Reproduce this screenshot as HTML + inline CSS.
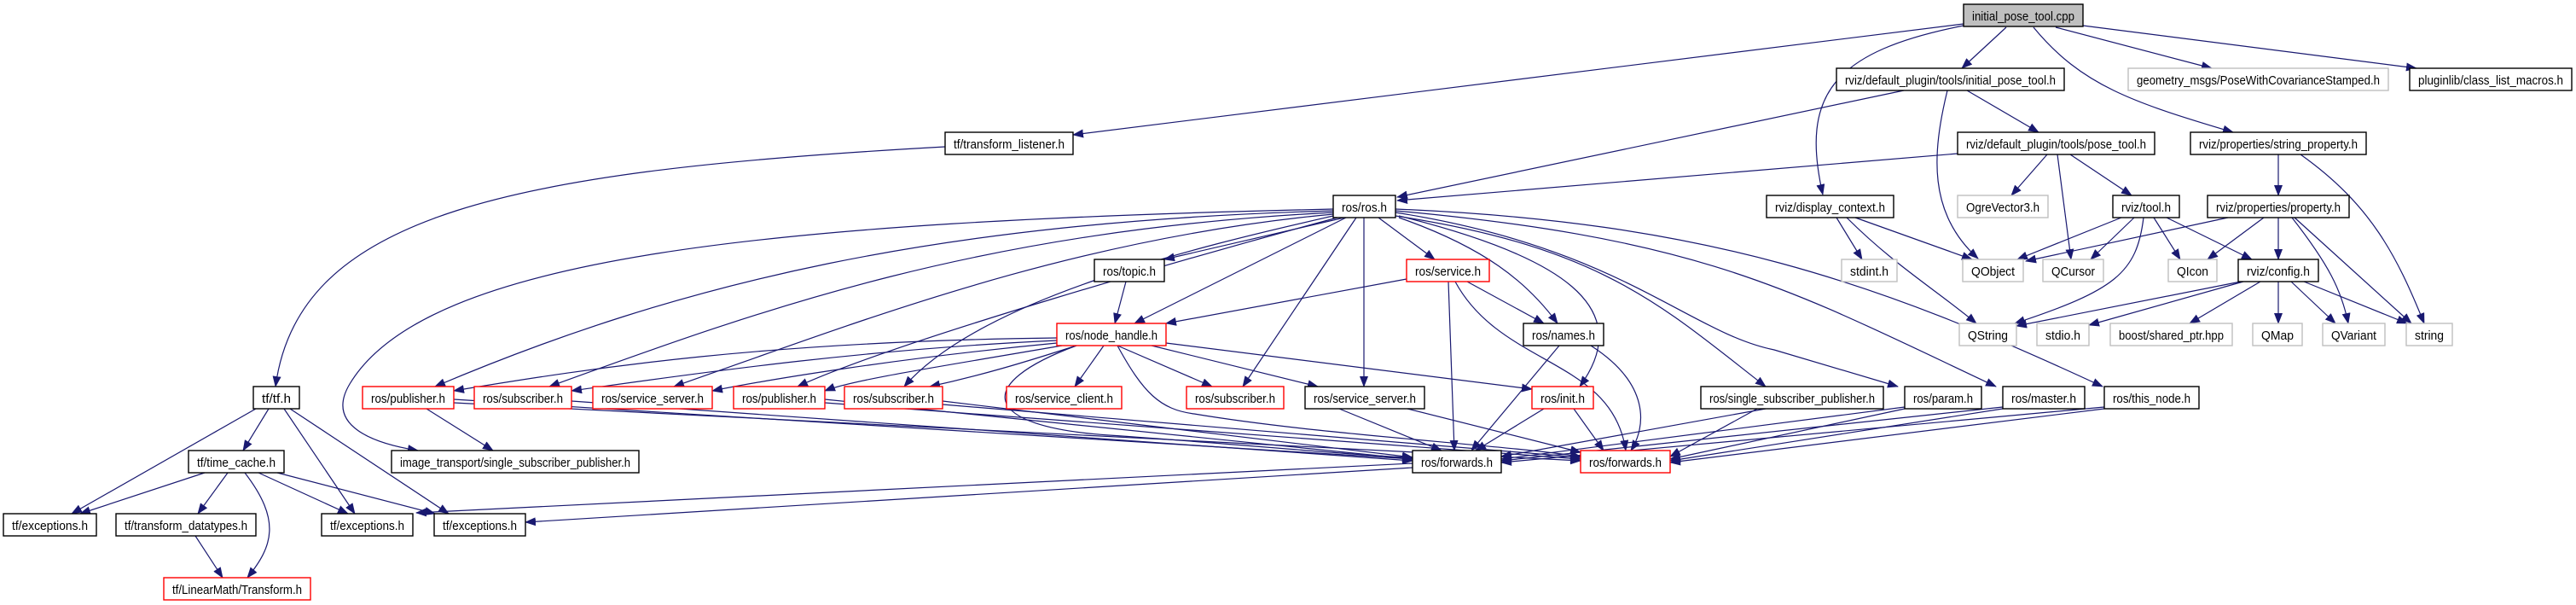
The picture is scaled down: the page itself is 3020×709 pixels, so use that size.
<!DOCTYPE html>
<html><head><meta charset="utf-8"><style>
html,body{margin:0;padding:0;background:#fff;}
svg{display:block;}
text{font-family:"Liberation Sans",sans-serif;font-size:15px;fill:#000;}
.b{fill:#fff;stroke:#000;stroke-width:1.4}
.r{fill:#fff;stroke:#ff0000;stroke-width:1.4}
.g{fill:#fff;stroke:#bfbfbf;stroke-width:1.4}
.e path{fill:none;stroke:#191970;stroke-width:1.2;marker-end:url(#a)}
</style></head><body>
<svg width="3020" height="709" viewBox="0 0 3020 709" xmlns="http://www.w3.org/2000/svg">
<defs><marker id="a" markerUnits="userSpaceOnUse" markerWidth="14" markerHeight="10" refX="12" refY="5" orient="auto"><path d="M0,0 L13,5 L0,10 Z" fill="#191970"/></marker></defs>
<g class="e">
<path d="M2302,28 L1258,158"/>
<path d="M2352,32 L2300,80"/>
<path d="M2410,32 L2593,80"/>
<path d="M2442,30 L2833,80"/>
<path d="M2302,30 C2150,60 2110,110 2137,228"/>
<path d="M2384,32 C2440,100 2500,120 2618,155"/>
<path d="M2232,106 L1638,231"/>
<path d="M2283,106 C2265,180 2260,250 2319,303"/>
<path d="M2306,106 L2390,155"/>
<path d="M2295,180 L1638,235"/>
<path d="M2400,181 L2358,229"/>
<path d="M2412,181 L2428,304"/>
<path d="M2427,181 L2499,229"/>
<path d="M2671,181 L2671,229"/>
<path d="M2697,181 C2780,240 2810,300 2842,379"/>
<path d="M2153,255 L2183,304"/>
<path d="M2175,255 L2312,304"/>
<path d="M2165,255 C2220,310 2270,340 2317,379"/>
<path d="M2487,255 L2365,304"/>
<path d="M2502,255 L2451,304"/>
<path d="M2525,255 L2556,304"/>
<path d="M2540,255 L2640,304"/>
<path d="M2513,255 C2505,320 2480,340 2362,379"/>
<path d="M2612,255 L2375,306"/>
<path d="M2654,255 L2588,304"/>
<path d="M2671,255 L2671,304"/>
<path d="M2687,255 C2730,310 2745,340 2753,379"/>
<path d="M2690,255 L2827,379"/>
<path d="M2627,330 L2364,382"/>
<path d="M2630,330 L2449,381"/>
<path d="M2650,330 L2567,379"/>
<path d="M2671,330 L2671,379"/>
<path d="M2686,330 L2738,379"/>
<path d="M2701,330 L2822,379"/>
<path d="M1576,255 L1365,304"/>
<path d="M1578,255 L1330,379"/>
<path d="M1616,255 L1682,304"/>
<path d="M1640,255 C1740,290 1790,330 1826,379"/>
<path d="M1640,253 C1830,300 1920,360 1852,453"/>
<path d="M1599,255 L1599,453"/>
<path d="M1590,255 L1457,453"/>
<path d="M1563,247 C1100,260 800,330 510,453"/>
<path d="M1563,249 C1150,270 900,360 644,453"/>
<path d="M1563,251 C1250,280 1000,380 790,453"/>
<path d="M1568,255 C1400,300 1050,400 935,453"/>
<path d="M1563,253 C1400,290 1150,350 1060,453"/>
<path d="M1563,245 C900,260 500,300 410,450 C380,500 440,520 490,528"/>
<path d="M1636,253 C1880,290 1950,360 2070,453"/>
<path d="M1636,249 C1900,290 1980,390 2080,410 L2225,453"/>
<path d="M1636,247 C2000,280 2100,340 2340,453"/>
<path d="M1636,245 C2000,260 2200,330 2465,453"/>
<path d="M1649,327 L1367,379"/>
<path d="M1720,330 L1810,379"/>
<path d="M1698,330 L1705,528"/>
<path d="M1706,330 C1760,430 1890,420 1906,528"/>
<path d="M1320,330 L1307,379"/>
<path d="M1239,396 C900,400 700,430 532,458"/>
<path d="M1239,399 C1000,410 800,440 670,458"/>
<path d="M1239,402 C1050,420 900,445 835,458"/>
<path d="M1245,405 C1100,430 1000,445 967,458"/>
<path d="M1262,405 C1200,425 1150,440 1090,453"/>
<path d="M1294,405 L1260,453"/>
<path d="M1310,405 L1421,453"/>
<path d="M1350,405 L1545,453"/>
<path d="M1367,402 L1796,456"/>
<path d="M1262,405 C1140,450 1150,500 1300,510 C1450,520 1600,535 1656,536"/>
<path d="M1310,405 C1340,460 1360,480 1400,485 C1550,510 1750,520 1853,535"/>
<path d="M1108,172 C600,200 350,250 323,453"/>
<path d="M300,479 L84,602"/>
<path d="M315,479 L285,528"/>
<path d="M333,479 L416,602"/>
<path d="M340,479 L526,602"/>
<path d="M240,554 L94,602"/>
<path d="M267,554 L232,602"/>
<path d="M287,554 C330,610 320,640 290,677"/>
<path d="M303,554 L408,602"/>
<path d="M325,554 L510,602"/>
<path d="M229,628 L261,677"/>
<path d="M500,479 L578,528"/>
<path d="M1656,543 L488,601"/>
<path d="M1656,548 L616,612"/>
<path d="M532,468 L1656,538"/>
<path d="M532,472 L1853,540"/>
<path d="M670,470 L1656,540"/>
<path d="M967,468 L1656,538"/>
<path d="M967,472 L1853,538"/>
<path d="M1105,470 L1656,536"/>
<path d="M1105,474 L1853,536"/>
<path d="M1570,479 L1690,528"/>
<path d="M1650,479 L1853,530"/>
<path d="M1810,479 L1730,528"/>
<path d="M1845,479 L1880,528"/>
<path d="M1828,405 L1725,528"/>
<path d="M1865,405 C1935,450 1930,500 1912,528"/>
<path d="M2070,479 L1760,535"/>
<path d="M2060,479 L1958,535"/>
<path d="M2233,477 L1760,538"/>
<path d="M2233,479 L1958,538"/>
<path d="M2348,477 L1760,540"/>
<path d="M2348,479 L1958,540"/>
<path d="M2467,477 L1760,542"/>
<path d="M2467,479 L1958,542"/>
</g>
<g>
<rect x="2302" y="5" width="140" height="26" fill="#bfbfbf" stroke="#000" stroke-width="1.4"/><text x="2312" y="24" textLength="120" lengthAdjust="spacingAndGlyphs">initial_pose_tool.cpp</text>
<rect class="b" x="2153" y="80" width="267" height="26"/><text x="2163" y="99" textLength="247" lengthAdjust="spacingAndGlyphs">rviz/default_plugin/tools/initial_pose_tool.h</text>
<rect class="g" x="2495" y="80" width="305" height="26"/><text x="2505" y="99" textLength="285" lengthAdjust="spacingAndGlyphs">geometry_msgs/PoseWithCovarianceStamped.h</text>
<rect class="b" x="2825" y="80" width="190" height="26"/><text x="2835" y="99" textLength="170" lengthAdjust="spacingAndGlyphs">pluginlib/class_list_macros.h</text>
<rect class="b" x="1108" y="155" width="150" height="26"/><text x="1118" y="174" textLength="130" lengthAdjust="spacingAndGlyphs">tf/transform_listener.h</text>
<rect class="b" x="2295" y="155" width="231" height="26"/><text x="2305" y="174" textLength="211" lengthAdjust="spacingAndGlyphs">rviz/default_plugin/tools/pose_tool.h</text>
<rect class="b" x="2568" y="155" width="206" height="26"/><text x="2578" y="174" textLength="186" lengthAdjust="spacingAndGlyphs">rviz/properties/string_property.h</text>
<rect class="b" x="1563" y="229" width="73" height="26"/><text x="1573" y="248" textLength="53" lengthAdjust="spacingAndGlyphs">ros/ros.h</text>
<rect class="b" x="2071" y="229" width="149" height="26"/><text x="2081" y="248" textLength="129" lengthAdjust="spacingAndGlyphs">rviz/display_context.h</text>
<rect class="g" x="2295" y="229" width="106" height="26"/><text x="2305" y="248" textLength="86" lengthAdjust="spacingAndGlyphs">OgreVector3.h</text>
<rect class="b" x="2477" y="229" width="78" height="26"/><text x="2487" y="248" textLength="58" lengthAdjust="spacingAndGlyphs">rviz/tool.h</text>
<rect class="b" x="2588" y="229" width="166" height="26"/><text x="2598" y="248" textLength="146" lengthAdjust="spacingAndGlyphs">rviz/properties/property.h</text>
<rect class="b" x="1283" y="304" width="82" height="26"/><text x="1293" y="323" textLength="62" lengthAdjust="spacingAndGlyphs">ros/topic.h</text>
<rect class="r" x="1649" y="304" width="97" height="26"/><text x="1659" y="323" textLength="77" lengthAdjust="spacingAndGlyphs">ros/service.h</text>
<rect class="g" x="2159" y="304" width="65" height="26"/><text x="2169" y="323" textLength="45" lengthAdjust="spacingAndGlyphs">stdint.h</text>
<rect class="g" x="2301" y="304" width="71" height="26"/><text x="2311" y="323" textLength="51" lengthAdjust="spacingAndGlyphs">QObject</text>
<rect class="g" x="2395" y="304" width="71" height="26"/><text x="2405" y="323" textLength="51" lengthAdjust="spacingAndGlyphs">QCursor</text>
<rect class="g" x="2542" y="304" width="57" height="26"/><text x="2552" y="323" textLength="37" lengthAdjust="spacingAndGlyphs">QIcon</text>
<rect class="b" x="2624" y="304" width="94" height="26"/><text x="2634" y="323" textLength="74" lengthAdjust="spacingAndGlyphs">rviz/config.h</text>
<rect class="r" x="1239" y="379" width="128" height="26"/><text x="1249" y="398" textLength="108" lengthAdjust="spacingAndGlyphs">ros/node_handle.h</text>
<rect class="b" x="1786" y="379" width="94" height="26"/><text x="1796" y="398" textLength="74" lengthAdjust="spacingAndGlyphs">ros/names.h</text>
<rect class="g" x="2297" y="379" width="67" height="26"/><text x="2307" y="398" textLength="47" lengthAdjust="spacingAndGlyphs">QString</text>
<rect class="g" x="2388" y="379" width="61" height="26"/><text x="2398" y="398" textLength="41" lengthAdjust="spacingAndGlyphs">stdio.h</text>
<rect class="g" x="2474" y="379" width="143" height="26"/><text x="2484" y="398" textLength="123" lengthAdjust="spacingAndGlyphs">boost/shared_ptr.hpp</text>
<rect class="g" x="2641" y="379" width="58" height="26"/><text x="2651" y="398" textLength="38" lengthAdjust="spacingAndGlyphs">QMap</text>
<rect class="g" x="2723" y="379" width="73" height="26"/><text x="2733" y="398" textLength="53" lengthAdjust="spacingAndGlyphs">QVariant</text>
<rect class="g" x="2821" y="379" width="54" height="26"/><text x="2831" y="398" textLength="34" lengthAdjust="spacingAndGlyphs">string</text>
<rect class="b" x="297" y="453" width="54" height="26"/><text x="307" y="472" textLength="34" lengthAdjust="spacingAndGlyphs">tf/tf.h</text>
<rect class="r" x="425" y="453" width="107" height="26"/><text x="435" y="472" textLength="87" lengthAdjust="spacingAndGlyphs">ros/publisher.h</text>
<rect class="r" x="556" y="453" width="114" height="26"/><text x="566" y="472" textLength="94" lengthAdjust="spacingAndGlyphs">ros/subscriber.h</text>
<rect class="r" x="695" y="453" width="140" height="26"/><text x="705" y="472" textLength="120" lengthAdjust="spacingAndGlyphs">ros/service_server.h</text>
<rect class="r" x="860" y="453" width="107" height="26"/><text x="870" y="472" textLength="87" lengthAdjust="spacingAndGlyphs">ros/publisher.h</text>
<rect class="r" x="990" y="453" width="115" height="26"/><text x="1000" y="472" textLength="95" lengthAdjust="spacingAndGlyphs">ros/subscriber.h</text>
<rect class="r" x="1180" y="453" width="135" height="26"/><text x="1190" y="472" textLength="115" lengthAdjust="spacingAndGlyphs">ros/service_client.h</text>
<rect class="r" x="1391" y="453" width="114" height="26"/><text x="1401" y="472" textLength="94" lengthAdjust="spacingAndGlyphs">ros/subscriber.h</text>
<rect class="b" x="1530" y="453" width="140" height="26"/><text x="1540" y="472" textLength="120" lengthAdjust="spacingAndGlyphs">ros/service_server.h</text>
<rect class="r" x="1796" y="453" width="72" height="26"/><text x="1806" y="472" textLength="52" lengthAdjust="spacingAndGlyphs">ros/init.h</text>
<rect class="b" x="1994" y="453" width="214" height="26"/><text x="2004" y="472" textLength="194" lengthAdjust="spacingAndGlyphs">ros/single_subscriber_publisher.h</text>
<rect class="b" x="2233" y="453" width="90" height="26"/><text x="2243" y="472" textLength="70" lengthAdjust="spacingAndGlyphs">ros/param.h</text>
<rect class="b" x="2348" y="453" width="96" height="26"/><text x="2358" y="472" textLength="76" lengthAdjust="spacingAndGlyphs">ros/master.h</text>
<rect class="b" x="2467" y="453" width="111" height="26"/><text x="2477" y="472" textLength="91" lengthAdjust="spacingAndGlyphs">ros/this_node.h</text>
<rect class="b" x="221" y="528" width="112" height="26"/><text x="231" y="547" textLength="92" lengthAdjust="spacingAndGlyphs">tf/time_cache.h</text>
<rect class="b" x="459" y="528" width="290" height="26"/><text x="469" y="547" textLength="270" lengthAdjust="spacingAndGlyphs">image_transport/single_subscriber_publisher.h</text>
<rect class="b" x="1656" y="528" width="104" height="26"/><text x="1666" y="547" textLength="84" lengthAdjust="spacingAndGlyphs">ros/forwards.h</text>
<rect class="r" x="1853" y="528" width="105" height="26"/><text x="1863" y="547" textLength="85" lengthAdjust="spacingAndGlyphs">ros/forwards.h</text>
<rect class="b" x="4" y="602" width="109" height="26"/><text x="14" y="621" textLength="89" lengthAdjust="spacingAndGlyphs">tf/exceptions.h</text>
<rect class="b" x="136" y="602" width="164" height="26"/><text x="146" y="621" textLength="144" lengthAdjust="spacingAndGlyphs">tf/transform_datatypes.h</text>
<rect class="b" x="377" y="602" width="107" height="26"/><text x="387" y="621" textLength="87" lengthAdjust="spacingAndGlyphs">tf/exceptions.h</text>
<rect class="b" x="509" y="602" width="107" height="26"/><text x="519" y="621" textLength="87" lengthAdjust="spacingAndGlyphs">tf/exceptions.h</text>
<rect class="r" x="192" y="677" width="172" height="26"/><text x="202" y="696" textLength="152" lengthAdjust="spacingAndGlyphs">tf/LinearMath/Transform.h</text>
</g>
</svg>
</body></html>
